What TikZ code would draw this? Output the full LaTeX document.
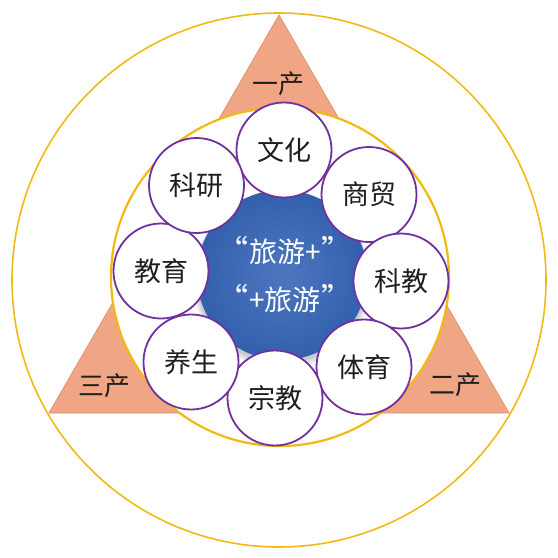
\documentclass[tikz,border=0pt]{standalone}
\usepackage{fontspec}
\usetikzlibrary{calc}
\newfontfamily\cjk{Noto Sans CJK SC}
\definecolor{gold}{RGB}{242,185,20}
\definecolor{salmon}{RGB}{240,166,132}
\definecolor{salmonedge}{RGB}{226,146,114}
\definecolor{purp}{RGB}{112,48,160}
\definecolor{blueA}{RGB}{78,118,192}
\definecolor{blueB}{RGB}{50,96,172}
\definecolor{txt}{RGB}{30,30,30}
\newcommand{\myopenq}{{\fontsize{31}{31}\selectfont “}\kern1pt}
\newcommand{\mycloseq}{\kern1pt{\fontsize{31}{31}\selectfont ”}}
\tikzset{
  field/.style={circle, draw=purp, line width=1.8pt, fill=white, minimum size=95pt, inner sep=0pt,
    font=\cjk\fontsize{27}{27}\selectfont, text=txt},
  sector/.style={inner sep=0pt, font=\cjk\fontsize{26}{26}\selectfont, text=txt},
  core/.style={inner sep=0pt, font=\cjk\fontsize{28}{28}\selectfont, text=white}
}
\begin{document}
\begin{tikzpicture}[x=1pt,y=-1pt]
\useasboundingbox (0,0) rectangle (558,558);
\fill[white] (0,0) rectangle (558,558);
% outer ring
\coordinate (oc) at (279,280);
\draw[gold, line width=1.6pt] (oc) circle (267pt);
% big triangle (visible as three corners)
\coordinate (t1) at (279,15);
\coordinate (t2) at (49,413);
\coordinate (t3) at (509,413);
\fill[salmon, draw=salmonedge, line width=0.8pt] (t1) -- (t2) -- (t3) -- cycle;
% inner ring
\coordinate (ic) at (280,277);
\draw[gold, line width=2.2pt, fill=white] (ic) circle (169pt);
% blue core with soft shadow
\coordinate (bc) at (282,275);
\foreach \k in {1,...,6}{
  \pgfmathsetmacro{\rr}{85+0.7*\k}
  \fill[black, opacity=0.035] ($(bc)+(0,2+0.6*\k)$) circle [radius=\rr pt];
}
\shade[inner color=blueA, outer color=blueB] (bc) circle (85pt);
% petals
\node[field] (wh) at (284,150) {文化};
\node[field] (sm) at (369,194.5) {商贸};
\node[field] (kj) at (401,281) {科教};
\node[field] (ty) at (364,367) {体育};
\node[field] (zj) at (275,398) {宗教};
\node[field] (ys) at (191,362) {养生};
\node[field] (jy) at (161,271) {教育};
\node[field] (ky) at (196.5,185.5) {科研};
% core text
\node[core] (l1) at (285,250) {\myopenq 旅游+\mycloseq};
\node[core] (l2) at (285,298) {\myopenq +旅游\mycloseq};
% sector labels
\node[sector] (s1) at (278.5,84) {一产};
\node[sector] (s3) at (104,386) {三产};
\node[sector] (s2) at (455,385) {二产};
\end{tikzpicture}
\end{document}
